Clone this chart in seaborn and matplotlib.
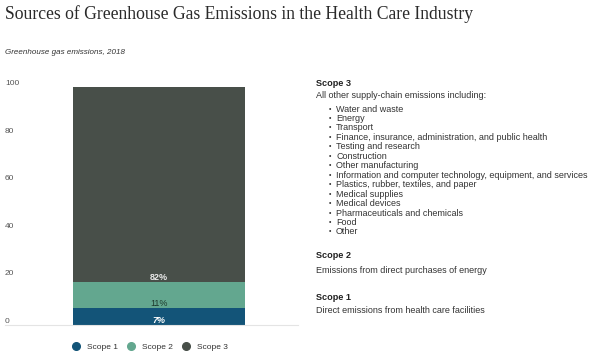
import matplotlib
matplotlib.use("Agg")
import matplotlib.pyplot as plt
import seaborn as sns
import pandas as pd
from matplotlib.lines import Line2D

# ---- data ----
scopes = ["Scope 1", "Scope 2", "Scope 3"]
shares = [7, 11, 82]
value_labels = ["7%", "11%", "82%"]
yticks = [0, 20, 40, 60, 80, 100]
colors = ["#135478", "#63a78f", "#484f49"]
label_colors = ["#ffffff", "#1d3a2c", "#e8e8e8"]

title = "Sources of Greenhouse Gas Emissions in the Health Care Industry"
subtitle = "Greenhouse gas emissions, 2018"
scope3_head = "Scope 3"
scope3_intro = "All other supply-chain emissions including:"
scope3_items = [
    "Water and waste", "Energy", "Transport",
    "Finance, insurance, administration, and public health",
    "Testing and research", "Construction", "Other manufacturing",
    "Information and computer technology, equipment, and services",
    "Plastics, rubber, textiles, and paper", "Medical supplies",
    "Medical devices", "Pharmaceuticals and chemicals", "Food", "Other",
]
scope2_head = "Scope 2"
scope2_text = "Emissions from direct purchases of energy"
scope1_head = "Scope 1"
scope1_text = "Direct emissions from health care facilities"

sns.set_theme(style="white")
plt.rcParams["font.family"] = ["Liberation Sans", "DejaVu Sans"]

W, H = 600, 360
fig = plt.figure(figsize=(6, 3.6), dpi=100)
ax = fig.add_axes([5 / W, 1 - 325 / H, (298 - 5) / W, (325 - 87) / H])

# cumulative tops for stacked bar
cum = []
s = 0
for v in shares:
    s += v
    cum.append(s)
bottoms = [c - v for c, v in zip(cum, shares)]

df = pd.DataFrame({"cat": ["2018"] * 3, "top": cum, "scope": scopes})
for i in reversed(range(3)):
    sns.barplot(data=df.iloc[[i]], x="cat", y="top", color=colors[i],
                width=0.6, ax=ax, saturation=1, edgecolor="none", linewidth=0)

for b, lab, lc, i in zip(bottoms, value_labels, label_colors, range(3)):
    ax.text(0, b + 2.0, lab, ha="center", va="center", fontsize=6.5,
            color=lc, fontweight="bold" if i != 1 else "normal",
            style="italic" if i == 0 else "normal")

ax.set_xlim(-0.537, 0.485)
ax.set_ylim(0, 100)
ax.set_yticks(yticks)
ax.set_yticklabels([str(t) for t in yticks])
ax.tick_params(axis="y", length=0, pad=0, labelsize=6, labelcolor="#555555")
for t in ax.get_yticklabels():
    t.set_ha("left")
    t.set_va("bottom")
ax.set_xticks([])
ax.set_xlabel("")
ax.set_ylabel("")
for sp in ["top", "right", "left"]:
    ax.spines[sp].set_visible(False)
ax.spines["bottom"].set_color("#e4e4e4")
ax.spines["bottom"].set_linewidth(0.8)
ax.patch.set_alpha(0)

# legend
handles = [Line2D([0], [0], marker="o", linestyle="none", markersize=5.5,
                  markerfacecolor=c, markeredgecolor=c) for c in colors]
fig.legend(handles, scopes, loc="center", bbox_to_anchor=(148 / W, 1 - 347 / H),
           ncol=3, frameon=False, fontsize=6, handletextpad=0.3,
           columnspacing=0.6, labelcolor="#333333")

# titles
fig.text(5 / W, 1 - 14 / H, title, ha="left", va="center", fontsize=12.7,
         family=["Liberation Serif", "DejaVu Serif"], color="#2a2a2a")
fig.text(5 / W, 1 - 52 / H, subtitle, ha="left", va="center", fontsize=5.8,
         style="italic", color="#333333")

# right-hand description
tx = 316 / W
fs = 6.5
fig.text(tx, 1 - 84 / H, scope3_head, fontsize=6.6, fontweight="bold",
         va="center", color="#222222")
fig.text(tx, 1 - 95.5 / H, scope3_intro, fontsize=fs, va="center", color="#333333")
for k, item in enumerate(scope3_items):
    y = 1 - (109 + 9.46 * k) / H
    fig.text(329 / W, y, "•", fontsize=5, va="center", color="#333333")
    fig.text(336 / W, y, item, fontsize=fs, va="center", color="#333333")
fig.text(tx, 1 - 256 / H, scope2_head, fontsize=6.6, fontweight="bold",
         va="center", color="#222222")
fig.text(tx, 1 - 270.5 / H, scope2_text, fontsize=fs, va="center", color="#333333")
fig.text(tx, 1 - 297 / H, scope1_head, fontsize=6.6, fontweight="bold",
         va="center", color="#222222")
fig.text(tx, 1 - 310.5 / H, scope1_text, fontsize=fs, va="center", color="#333333")

fig.savefig("out.png", dpi=100)
